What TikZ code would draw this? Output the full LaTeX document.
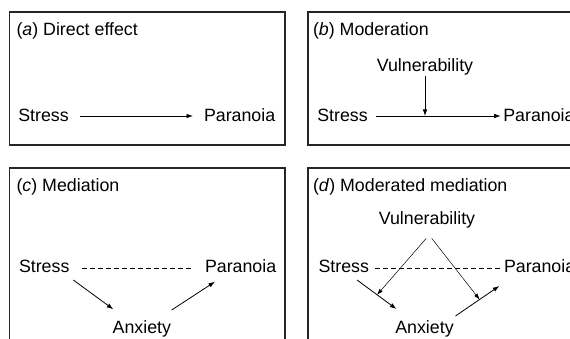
\documentclass[tikz,border=0pt]{standalone}
\usepackage{fontspec}
\setmainfont{Liberation Sans}
\usetikzlibrary{calc,arrows.meta}
\begin{document}
\begin{tikzpicture}[x=1pt,y=-1pt,
  lbl/.style={inner sep=0pt,outer sep=0pt,anchor=base west,font=\fontsize{17.8}{21}\selectfont},
  clbl/.style={lbl,anchor=base},
  boxst/.style={draw=black!85,line width=1.1pt},
  arr/.style={line width=0.8pt,-{Latex[length=6.5pt,width=4.6pt]}},
  thinarr/.style={line width=0.5pt,-{Latex[length=6pt,width=4.2pt]}},
  dsh/.style={line width=0.8pt,dash pattern=on 5pt off 3pt}]
\path[use as bounding box] (0,0) rectangle (570,339);
\clip (0,0) rectangle (570,339);
% frames
\draw[boxst] (9.5,12) rectangle (285,145);
\draw[boxst] (308,12) rectangle (600,145);
\draw[boxst] (9.5,168) rectangle (285,400);
\draw[boxst] (308,168) rectangle (600,400);
% (a)
\node[lbl] (ta) at (16.5,36) {(\textit{a}) Direct effect};
\node[lbl] (sa) at (18.3,122) {Stress};
\node[lbl] (pa) at (204,122) {Paranoia};
\draw[arr] ($(sa.base east)+(11.3,-6)$) -- ($(pa.base west)+(-11,-6)$);
% (b)
\node[lbl] (tb) at (313,36) {(\textit{b}) Moderation};
\node[clbl] (vb) at (425,71.5) {Vulnerability};
\node[lbl] (sb) at (317.3,122) {Stress};
\node[lbl] (pb) at (503.3,122) {Paranoia};
\draw[arr] ($(sb.base east)+(8.3,-6)$) -- ($(pb.base west)+(-2.6,-6)$);
\draw[arr] ($(vb.base)+(0,4.5)$) -- ($(vb.base)+(0,44.5)$);
% (c)
\node[lbl] (tc) at (16.5,192) {(\textit{c}) Mediation};
\node[lbl] (sc) at (19,272) {Stress};
\node[lbl] (pc) at (205,272) {Paranoia};
\node[lbl] (xc) at (112.7,333) {Anxiety};
\draw[dsh] ($(sc.base east)+(12.3,-3.5)$) -- ($(pc.base west)+(-11.7,-3.5)$);
\draw[arr] ($(sc.base east)+(3.9,8)$) -- ($(xc.base west)+(0.6,-23.7)$);
\draw[arr] ($(xc.base east)+(0.6,-23)$) -- ($(pc.base west)+(10,9.7)$);
% (d)
\node[lbl] (td) at (313,192) {(\textit{d}) Moderated mediation};
\node[clbl] (vd) at (427,225) {Vulnerability};
\node[lbl] (sd) at (318.6,272) {Stress};
\node[lbl] (pd) at (504,272) {Paranoia};
\node[lbl] (xd) at (395.3,333) {Anxiety};
\draw[dsh] ($(sd.base east)+(6.2,-3.5)$) -- ($(pd.base west)+(-3.6,-3.5)$);
\coordinate (d1) at ($(sd.base east)+(-12,8)$);
\coordinate (d2) at ($(xd.base west)+(1.1,-24)$);
\coordinate (d3) at ($(xd.base east)+(1.8,-17)$);
\coordinate (d4) at ($(pd.base west)+(-4.7,14)$);
\draw[arr] (d1) -- (d2);
\draw[arr] (d3) -- (d4);
\draw[thinarr] ($(vd.base)+(-0.7,13.3)$) -- ($(d1)!0.51!(d2)$);
\draw[thinarr] ($(vd.base)+(4.7,13.3)$) -- ($(d3)!0.55!(d4)$);
\end{tikzpicture}
\end{document}
